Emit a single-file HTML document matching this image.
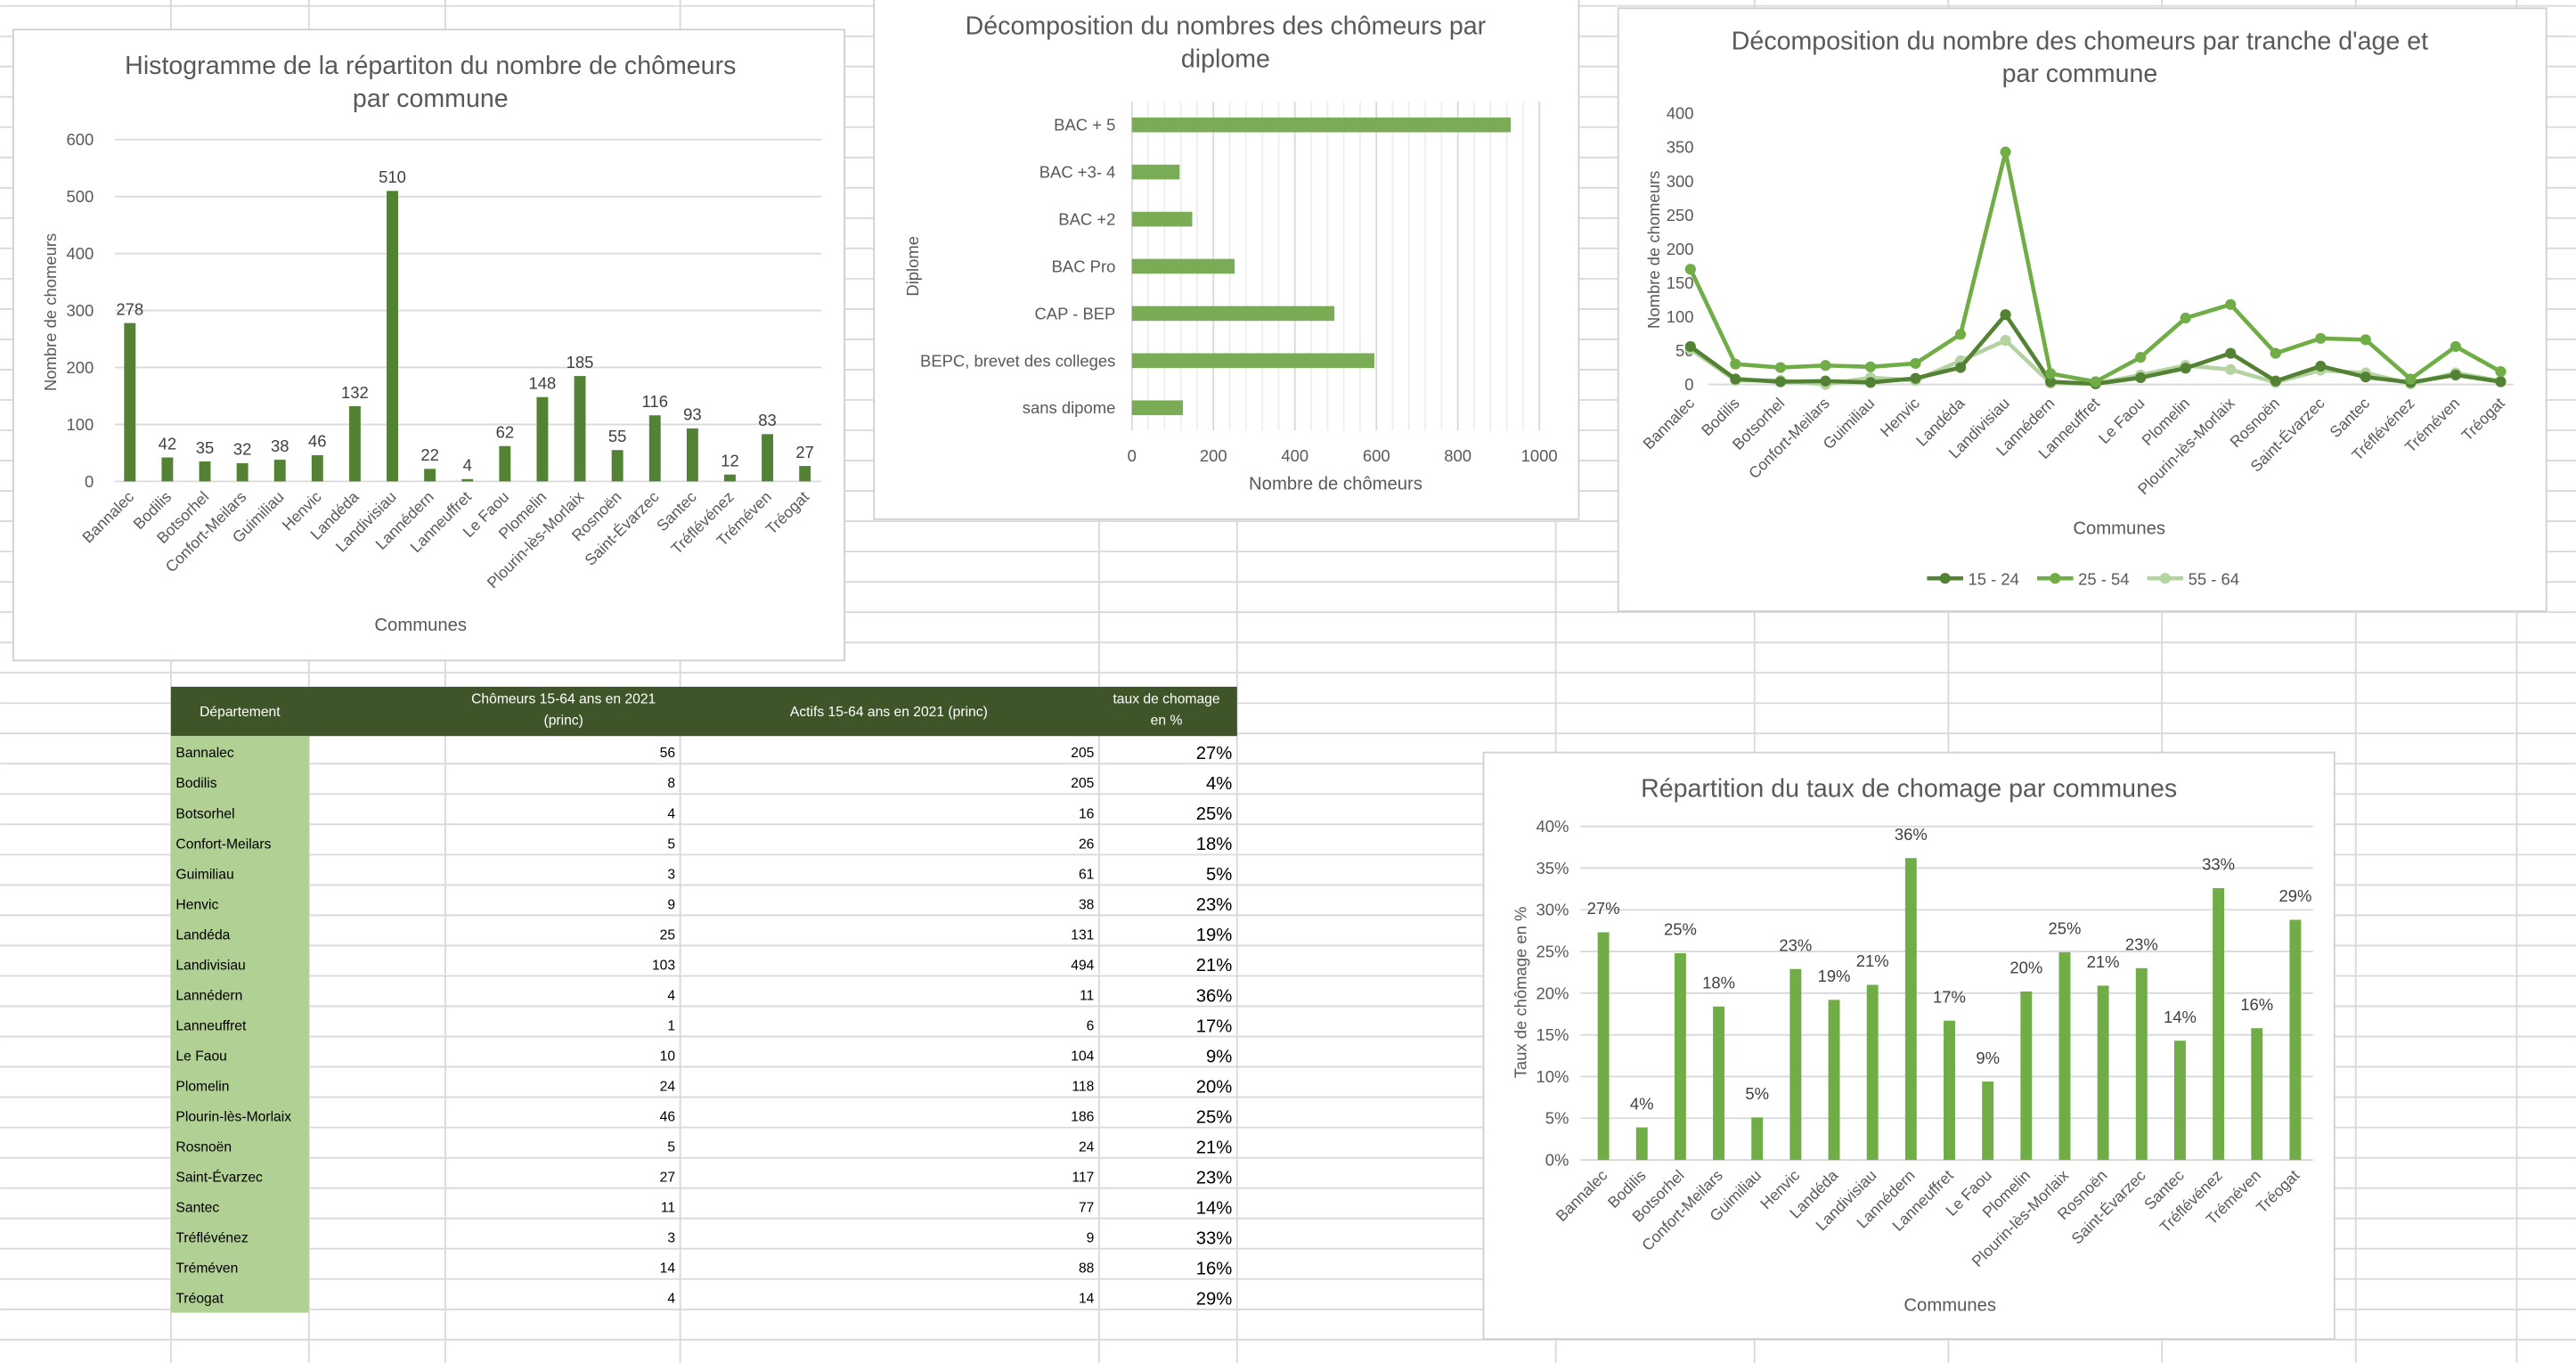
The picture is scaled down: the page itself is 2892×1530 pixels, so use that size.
<!DOCTYPE html>
<html><head><meta charset="utf-8"><style>
html,body{margin:0;padding:0;background:#fff;}
svg{display:block;font-family:"Liberation Sans",sans-serif;}
.t{font-family:"Liberation Sans Narrow","Liberation Sans",sans-serif;}
</style></head><body>
<svg id="s" xmlns="http://www.w3.org/2000/svg" width="2892" height="1530" viewBox="0 0 1568 829.6">
<g id="grid"></g>
<g id="tbl"></g>
<g id="c1"></g>
<g id="c2"></g>
<g id="c3"></g>
<g id="c4"></g>
</svg>
<script>
const communes=["Bannalec","Bodilis","Botsorhel","Confort-Meilars","Guimiliau","Henvic","Landéda","Landivisiau","Lannédern","Lanneuffret","Le Faou","Plomelin","Plourin-lès-Morlaix","Rosnoën","Saint-Évarzec","Santec","Tréflévénez","Tréméven","Tréogat"];
const totalChomeurs=[278,42,35,32,38,46,132,510,22,4,62,148,185,55,116,93,12,83,27];
const diplomes=["BAC + 5","BAC +3- 4","BAC +2","BAC Pro","CAP - BEP","BEPC, brevet des colleges","sans dipome"];
const diplomeValues=[930,117,148,252,497,595,125];
const age1524=[56,8,4,5,3,9,25,103,4,1,10,24,46,5,27,11,3,14,4];
const age2554=[170,30,25,28,26,31,74,343,16,4,40,98,118,46,68,66,8,56,19];
const age5564=[52,6,6,0,10,6,35,65,2,1,14,28,22,3,21,17,1,17,5];
const chomeurs1564=[56,8,4,5,3,9,25,103,4,1,10,24,46,5,27,11,3,14,4];
const actifs1564=[205,205,16,26,61,38,131,494,11,6,104,118,186,24,117,77,9,88,14];
const tauxChomage=[27.3,3.9,24.8,18.4,5.1,22.9,19.2,21.0,36.2,16.7,9.4,20.2,24.9,20.9,23.0,14.3,32.6,15.8,28.8];
const ticks1=[0,100,200,300,400,500,600];
const ticks2=[0,200,400,600,800,1000];
const ticks3=[0,50,100,150,200,250,300,350,400];
const ticks4=[0,5,10,15,20,25,30,35,40];

const NS="http://www.w3.org/2000/svg";
function el(p,tag,at,txt){const e=document.createElementNS(NS,tag);for(const k in at)e.setAttribute(k,at[k]);if(txt!==undefined)e.textContent=txt;p.appendChild(e);return e;}
const G=id=>document.getElementById(id);

const g0=G('grid');
for(let y=3.6;y<830;y+=18.45){const l=el(g0,'line',{x1:0,x2:1568,y1:y,y2:y,stroke:'#d9d9d9','stroke-width':1});

}
[104,188,271,414,669,753,947,1068,1186,1316,1434,1532].forEach(x=>{const l=el(g0,'line',{x1:x,x2:x,y1:0,y2:830,stroke:'#d9d9d9','stroke-width':1});

});

function box(g,x,y,w,h){const r=el(g,'rect',{x:x,y:y,width:w,height:h,fill:'#fff',stroke:'#d0d0d0','stroke-width':1});

}
function title(g,lines,cx,y){lines.forEach((t,i)=>{const e=el(g,'text',{x:cx,y:y+i*20,'text-anchor':'middle','font-size':15.5,fill:'#595959',class:'t'},t);

});}
function rotLabels(g,xs,y,fs){communes.forEach((c,i)=>{const e=el(g,'text',{x:xs(i)+3,y:y,'text-anchor':'end','font-size':fs,fill:'#595959',transform:`rotate(-45 ${xs(i)+3} ${y})`},c);

});}

{const g=G('c1');box(g,8,18,506,384);
title(g,["Histogramme de la répartiton du nombre de chômeurs","par commune"],262,45);
const y0=293,y1=85,ys=v=>y0-(v/600)*(y0-y1),xs=i=>79+i*22.83;
ticks1.forEach(t=>{const l=el(g,'line',{x1:70,x2:500,y1:ys(t),y2:ys(t),stroke:'#d9d9d9'});


const e=el(g,'text',{x:57,y:ys(t)+3.5,'text-anchor':'end','font-size':10,fill:'#595959',class:'t'},t);

});
totalChomeurs.forEach((v,i)=>{const r=el(g,'rect',{x:xs(i)-3.5,y:ys(v),width:7,height:y0-ys(v),fill:'#548235'});


const e=el(g,'text',{x:xs(i),y:ys(v)-5,'text-anchor':'middle','font-size':10,fill:'#404040',class:'t'},v);

});
rotLabels(g,xs,303,9.5);
const a=el(g,'text',{x:34,y:190,'text-anchor':'middle','font-size':10,fill:'#595959',transform:'rotate(-90 34 190)'},'Nombre de chomeurs');


const b=el(g,'text',{x:256,y:384,'text-anchor':'middle','font-size':11,fill:'#595959',class:'t'},'Communes');

}

{const g=G('c2');box(g,532,-2,429,318);
title(g,["Décomposition du nombres des chômeurs par","diplome"],746,21);
const x0=689,x1=937,xs=v=>x0+(v/1000)*(x1-x0),ys=i=>76+i*28.7;
for(let v=0;v<=1000;v+=40){const l=el(g,'line',{x1:xs(v),x2:xs(v),y1:62,y2:262,stroke:v%200==0?'#d9d9d9':'#eeeeee'});

}
ticks2.forEach(t=>{const e=el(g,'text',{x:xs(t),y:281,'text-anchor':'middle','font-size':10,fill:'#595959',class:'t'},t);

});
diplomeValues.forEach((v,i)=>{const r=el(g,'rect',{x:x0,y:ys(i)-4.5,width:xs(v)-x0,height:9,fill:'#7aab55'});


const e=el(g,'text',{x:679,y:ys(i)+3.5,'text-anchor':'end','font-size':10,fill:'#595959',class:'t'},diplomes[i]);

});
const a=el(g,'text',{x:559,y:162,'text-anchor':'middle','font-size':10,fill:'#595959',transform:'rotate(-90 559 162)'},'Diplome');


const b=el(g,'text',{x:813,y:298,'text-anchor':'middle','font-size':11,fill:'#595959',class:'t'},'Nombre de chômeurs');

}

{const g=G('c3');box(g,985,5,565,367);
title(g,["Décomposition du nombre des chomeurs par tranche d'age et","par commune"],1266,30);
const y0=234,y1=69,ys=v=>y0-(v/400)*(y0-y1),xs=i=>1029+i*27.4;
ticks3.forEach(t=>{const e=el(g,'text',{x:1031,y:ys(t)+3.5,'text-anchor':'end','font-size':10,fill:'#595959',class:'t'},t);

});
const ax=el(g,'line',{x1:1040,x2:1530,y1:y0,y2:y0,stroke:'#d9d9d9'});


const series=[[age5564,'#b4d3a1','55-64'],[age1524,'#548235','15-24'],[age2554,'#70ad47','25-54']];
series.forEach(([arr,col,nm])=>{const p=el(g,'polyline',{points:arr.map((v,i)=>xs(i)+','+ys(v)).join(' '),fill:'none',stroke:col,'stroke-width':2.5});


arr.forEach((v,i)=>{const c=el(g,'circle',{cx:xs(i),cy:ys(v),r:3.3,fill:col});

});});
rotLabels(g,xs,246,9.5);
const a=el(g,'text',{x:1010,y:152,'text-anchor':'middle','font-size':10,fill:'#595959',transform:'rotate(-90 1010 152)'},'Nombre de chomeurs');


const b=el(g,'text',{x:1290,y:325,'text-anchor':'middle','font-size':11,fill:'#595959',class:'t'},'Communes');


[['15 - 24','#548235',1173],['25 - 54','#70ad47',1240],['55 - 64','#b4d3a1',1307]].forEach(([t,c,x])=>{
const l=el(g,'line',{x1:x,x2:x+22,y1:352,y2:352,stroke:c,'stroke-width':2.5});


const ci=el(g,'circle',{cx:x+11,cy:352,r:3.3,fill:c});


const e=el(g,'text',{x:x+25,y:356,'font-size':10,fill:'#595959',class:'t'},t);

});}

{const g=G('c4');box(g,903,458,518,357);
title(g,["Répartition du taux de chomage par communes"],1162,485);
const y0=706,y1=503,ys=v=>y0-(v/40)*(y0-y1),xs=i=>976+i*23.4;
ticks4.forEach(t=>{const l=el(g,'line',{x1:962,x2:1408,y1:ys(t),y2:ys(t),stroke:'#d9d9d9'});


const e=el(g,'text',{x:955,y:ys(t)+3.5,'text-anchor':'end','font-size':10,fill:'#595959',class:'t'},t+'%');

});
tauxChomage.forEach((v,i)=>{
const r=el(g,'rect',{x:xs(i)-3.5,y:ys(v),width:7,height:y0-ys(v),fill:'#70ad47'});


const e=el(g,'text',{x:xs(i),y:ys(v)-11,'text-anchor':'middle','font-size':10,fill:'#404040',class:'t'},Math.round(v)+'%');

});
rotLabels(g,xs,716,9.5);
const a=el(g,'text',{x:929,y:604,'text-anchor':'middle','font-size':10,fill:'#595959',transform:'rotate(-90 929 604)'},'Taux de chômage en %');


const b=el(g,'text',{x:1187,y:798,'text-anchor':'middle','font-size':11,fill:'#595959',class:'t'},'Communes');

}

{const g=G('tbl');
const h=el(g,'rect',{x:104,y:418,width:649,height:30,fill:'#3e5529'});


const c=el(g,'rect',{x:104,y:448,width:84,height:351,fill:'#b0d094'});


[['Département',146,436],['Chômeurs 15-64 ans en 2021',343,428],['(princ)',343,441],['Actifs 15-64 ans en 2021 (princ)',541,436],['taux de chomage',710,428],['en %',710,441]].forEach(([t,x,y])=>{
const e=el(g,'text',{x:x,y:y,'text-anchor':'middle','font-size':8.5,fill:'#fff'},t);

});
communes.forEach((n,i)=>{const y=461+i*18.45;
const a=el(g,'text',{x:107,y:y,'font-size':8.5,fill:'#000'},n);


const b=el(g,'text',{x:411,y:y,'text-anchor':'end','font-size':8.5,fill:'#000'},chomeurs1564[i]);


const d=el(g,'text',{x:666,y:y,'text-anchor':'end','font-size':8.5,fill:'#000'},actifs1564[i]);


const f=el(g,'text',{x:750,y:y+1,'text-anchor':'end','font-size':11,fill:'#000'},Math.round(tauxChomage[i])+'%');

});}
</script>
</body></html>
